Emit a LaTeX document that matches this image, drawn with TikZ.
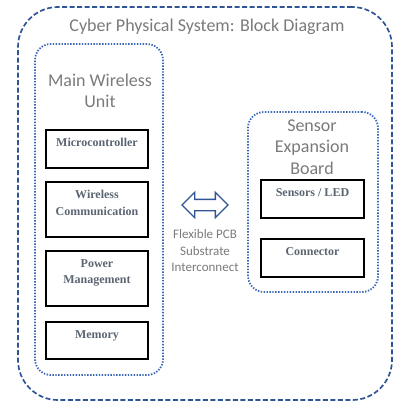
\documentclass[tikz,border=0pt]{standalone}
\usepackage{fontspec}
\setmainfont{Carlito}
\newfontfamily\blockfont{Liberation Serif}
\usetikzlibrary{shapes.arrows}
\definecolor{titlegray}{HTML}{7A7A7A}
\definecolor{blocktext}{HTML}{5A6571}
\definecolor{outerblue}{HTML}{2F5597}
\definecolor{dotblue}{HTML}{3A66B8}

\begin{document}
\begin{tikzpicture}[x=1pt, y=-1pt,
    outer/.style={draw=outerblue, line width=1.7pt, dash pattern=on 5pt off 2.5pt, rounded corners=40pt},
    unit/.style={draw=dotblue, line width=1.8pt, dash pattern=on 1.4pt off 1.5pt, rounded corners=16pt},
    heading/.style={text=titlegray, align=center, font=\fontsize{18}{21}\selectfont},
    block/.style={draw, line width=1.8pt, minimum width=102, inner sep=0},
    blocklabel/.style={text=blocktext, align=center, anchor=north, yshift=-6pt,
        font=\blockfont\bfseries\fontsize{12}{16.5}\selectfont}]
    \useasboundingbox (0,0) rectangle (394,405);

    \node[outer, minimum width=374, minimum height=393] (cps) at (205,203.5) {};
    \node[heading] (cpstitle) at (207,27) {Cyber Physical System: Block Diagram};

    % main wireless unit
    \node[unit, minimum width=128, minimum height=331] (mwu) at (99,209.5) {};
    \node[heading] (mwutitle) at (100,91) {Main Wireless\\Unit};
    \node[block, minimum height=38] (mcu) at (97,149)
        {}; \node[blocklabel] at (mcu.north) {Microcontroller};
    \node[block, minimum height=55] (wcomm) at (97,209.5)
        {}; \node[blocklabel] at (wcomm.north) {Wireless\\Communication};
    \node[block, minimum height=55] (pmgmt) at (97,278.5)
        {}; \node[blocklabel] at (pmgmt.north) {Power\\Management};
    \node[block, minimum height=37] (mem) at (97,340.5)
        {}; \node[blocklabel] at (mem.north) {Memory};

    % sensor expansion board
    \node[unit, minimum width=130, minimum height=180] (seb) at (313,202) {};
    \node[heading, font=\fontsize{18}{21.5}\selectfont] (sebtitle) at (312,147) {Sensor\\Expansion\\Board};
    \tikzset{block/.append style={minimum width=103}}
    \node[block, minimum height=38] (sled) at (312.5,199)
        {}; \node[blocklabel] at (sled.north) {Sensors / LED};
    \node[block, minimum height=38] (conn) at (312.5,258)
        {}; \node[blocklabel] at (conn.north) {Connector};

    % flexible pcb interconnect
    \node[double arrow, draw=outerblue, line width=1.3pt, minimum height=46, inner sep=0,
        text height=5pt, text depth=5pt, double arrow head extend=7pt] (flex) at (205,205) {};
    \node[heading, font=\fontsize{13}{16.5}\selectfont] (flextitle) at (205,251)
        {Flexible PCB\\Substrate\\Interconnect};
\end{tikzpicture}
\end{document}
